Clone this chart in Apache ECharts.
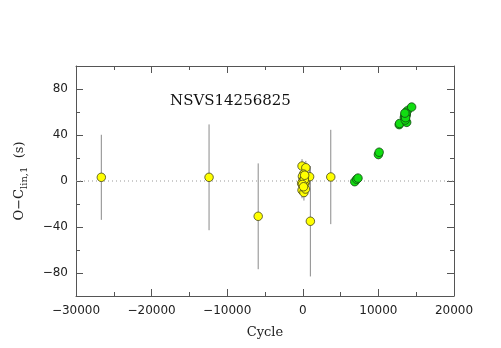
<!DOCTYPE html>
<html><head><meta charset="utf-8">
<script src="https://cdn.jsdelivr.net/npm/echarts@6/dist/echarts.min.js"></script>
<style>html,body{margin:0;padding:0;background:#fff}#c{width:501px;height:348px}</style>
</head><body><div id="c"></div>
<script>
const title = 'NSVS14256825';
const xTitle = 'Cycle';
const yMajor = [-80, -40, 0, 40, 80];
const yMinor = [-60, -20, 20, 60];

// yellow points: cycle, O-C (s), error (s)
const yellowCycle = [-26650, -12400, -5900, 1000, 3700, -100, 400, 900, 100, -50, 200, 0, 300, -150, 250, 50, -100, 150, 350, 200, -50, 100, 250];
const yellowOC    = [3.2, 3.2, -30.7, -35, 3.5, 13, 11.5, 3.7, 6, 4, 2, 0, -1, -2, -4, -6, -8, -10, -7, 1, -3, -5, 5];
const yellowErr   = [37, 46, 46, 48, 41, 6, 6, 7, 7, 7, 7, 7, 7, 7, 7, 7, 7, 7, 7, 7, 7, 7, 7];

// green points
const greenCycle = [6870, 7130, 7300, 10000, 10100, 12750, 12800, 13430, 13500, 13600, 13690, 13740, 13820, 13550, 13650, 14400, 13600, 13500];
const greenOC    = [-0.6, 1.5, 2.5, 23, 25, 49, 50, 55.4, 57, 58, 57.4, 51, 61, 53, 59, 64.3, 55, 59];
const greenErr   = [3, 3, 4, 4, 4, 3, 3, 4, 4, 4, 4, 4, 5, 4, 4, 3, 4, 4];

const toPts = (xs, ys) => xs.map((x, i) => [x, ys[i]]);
const toBars = (xs, ys, es) => xs.map((x, i) => [x, ys[i] - es[i], ys[i] + es[i]]);

const axisCol = '#555';
const errRender = function (params, api) {
  const p1 = api.coord([api.value(0), api.value(1)]);
  const p2 = api.coord([api.value(0), api.value(2)]);
  return {type: 'line', shape: {x1: p1[0], y1: p1[1], x2: p2[0], y2: p2[1]},
          style: {stroke: '#8a8a8a', lineWidth: 1}};
};

const baseX = {
  type: 'value', min: -30000, max: 20000, interval: 10000,
  axisLine: {show: true, onZero: false, lineStyle: {color: axisCol, width: 1}},
  axisTick: {show: true, inside: true, length: 7, lineStyle: {color: axisCol}},
  minorTick: {show: true, splitNumber: 2, length: 4, lineStyle: {color: axisCol}},
  splitLine: {show: false}
};
const yCommon = {type: 'value', min: -100, max: 100, splitLine: {show: false}};

const chart = echarts.init(document.getElementById('c'), null, {renderer: 'canvas'});
chart.setOption({
  animation: false,
  grid: {left: 76, right: 47, top: 66, bottom: 52},
  xAxis: [
    Object.assign({}, baseX, {
      position: 'bottom', name: xTitle, nameLocation: 'middle', nameGap: 30,
      nameTextStyle: {fontFamily: 'DejaVu Serif', fontSize: 13, color: '#222'},
      axisLabel: {show: true, margin: 9, fontFamily: 'DejaVu Sans', fontSize: 12, color: '#222',
        formatter: v => (v < 0 ? '\u2212' + Math.abs(v) : String(v))}
    }),
    Object.assign({}, baseX, {position: 'top', axisLabel: {show: false}})
  ],
  yAxis: [
    Object.assign({}, yCommon, {
      position: 'left',
      axisLine: {show: true, onZero: false, lineStyle: {color: axisCol}},
      axisTick: {show: true, inside: true, length: 7, customValues: yMajor, lineStyle: {color: axisCol}},
      axisLabel: {show: true, customValues: yMajor, margin: 8, fontFamily: 'DejaVu Sans', fontSize: 12, color: '#222',
        formatter: v => (v < 0 ? '\u2212' + Math.abs(v) : String(v))},
      name: '{a|O\u2212C}{b|lin,1}{a|  (s)}', nameLocation: 'middle', nameGap: 47,
      nameTextStyle: {rich: {
        a: {fontFamily: 'DejaVu Serif', fontSize: 13, color: '#222', verticalAlign: 'top', lineHeight: 16},
        b: {fontFamily: 'DejaVu Serif', fontSize: 10, color: '#222', verticalAlign: 'bottom', lineHeight: 16, padding: [6, 0, 0, 0]}
      }}
    }),
    Object.assign({}, yCommon, {
      position: 'left',
      axisLine: {show: false, onZero: false},
      axisTick: {show: true, inside: true, length: 4, customValues: yMinor, lineStyle: {color: axisCol}},
      axisLabel: {show: false}
    }),
    Object.assign({}, yCommon, {
      position: 'right',
      axisLine: {show: true, onZero: false, lineStyle: {color: axisCol}},
      axisTick: {show: true, inside: true, length: 7, customValues: yMajor, lineStyle: {color: axisCol}},
      axisLabel: {show: false}
    }),
    Object.assign({}, yCommon, {
      position: 'right',
      axisLine: {show: false, onZero: false},
      axisTick: {show: true, inside: true, length: 4, customValues: yMinor, lineStyle: {color: axisCol}},
      axisLabel: {show: false}
    })
  ],
  graphic: [{
    type: 'text', left: 170, top: 94,
    style: {text: title, font: '15px "DejaVu Serif"', fill: '#111'}
  }],
  series: [
    {
      type: 'line', data: [[-30000, 0], [20000, 0]], symbol: 'none', silent: true, z: 1,
      lineStyle: {color: '#999', width: 1, type: [1, 3]}
    },
    {type: 'custom', renderItem: errRender, data: toBars(yellowCycle, yellowOC, yellowErr), z: 2,
      encode: {x: 0, y: [1, 2]}},
    {type: 'custom', renderItem: errRender, data: toBars(greenCycle, greenOC, greenErr), z: 2,
      encode: {x: 0, y: [1, 2]}},
    {type: 'scatter', data: toPts(yellowCycle, yellowOC), symbolSize: 8.5, z: 3,
      itemStyle: {color: '#ffff00', borderColor: '#44441a', borderWidth: 0.8, opacity: 1}},
    {type: 'scatter', data: toPts(greenCycle, greenOC), symbolSize: 8.5, z: 3,
      itemStyle: {color: '#11dd11', borderColor: '#144814', borderWidth: 0.8, opacity: 1}}
  ]
});
</script></body></html>
